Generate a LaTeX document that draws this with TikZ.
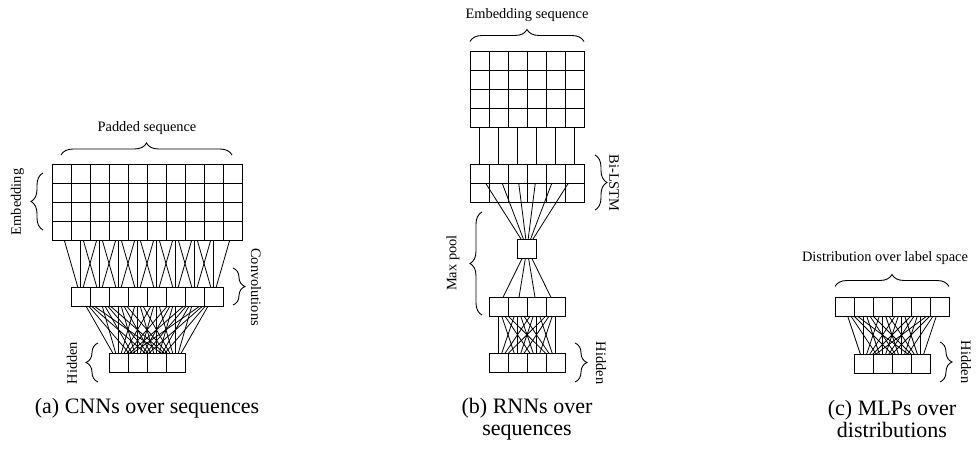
\documentclass[tikz,border=0pt]{standalone}
\usepackage{fontspec}
\setmainfont{Liberation Serif}
\usetikzlibrary{decorations.pathreplacing,backgrounds}
\begin{document}
\begin{tikzpicture}[x=0.5pt,y=-0.5pt,
  cell/.style={draw,fill=white,line width=0.45pt,minimum size=9.5pt,inner sep=0pt,outer sep=0pt},
  opencell/.style={cell,fill=none},
  wire/.style={line width=0.4pt},
  brc/.style={decorate,decoration={brace,amplitude=6pt},line width=0.45pt},
  lbl/.style={font=\fontsize{7.2}{8.6}\selectfont,inner sep=0pt},
  captext/.style={font=\fontsize{11}{11}\selectfont,align=center,inner sep=0pt}]
\useasboundingbox (0,0) rectangle (976,450);

% ---------- (a) CNN over a padded sequence ----------
\foreach \r in {0,...,3}
  \foreach \c in {0,...,9}
    \node[cell] (pe-\r-\c) at ({61.5+19*\c},{173.5+19*\r}) {};
\foreach \i in {0,...,7}
  \node[cell] (pc-\i) at ({80.5+19*\i},296.5) {};
\foreach \k in {0,...,3}
  \node[cell] (ph-\k) at ({118.5+19*\k},363) {};
\begin{pgfonlayer}{background}
  \foreach \i in {0,...,7}
    \foreach \d in {0,1,2} {
      \pgfmathtruncatemacro{\j}{\i+\d}
      \draw[wire] (pe-3-\j.center) -- (pc-\i.center);
    }
  \foreach \i in {0,...,7}
    \foreach \k in {0,...,3}
      \draw[wire] (pc-\i.center) -- (ph-\k.center);
\end{pgfonlayer}
\draw[brc] (61,155) -- (232,155);
\draw[brc] (43,230) -- (43,173);
\draw[brc] (233,268) -- (233,305);
\draw[brc] (98,382) -- (98,343);
\node[lbl] (ta-pad) at (147,128) {Padded sequence};
\node[lbl,rotate=90] (ta-emb) at (17.5,202) {Embedding};
\node[lbl,rotate=-90] (ta-conv) at (256,287) {Convolutions};
\node[lbl,rotate=90] (ta-hid) at (72,363) {Hidden};
\node[captext] (cap-a) at (147,408) {(a) CNNs over sequences};

% ---------- (b) Bi-LSTM with max pooling ----------
\foreach \r in {0,...,3}
  \foreach \c in {0,...,5}
    \node[cell] (rb-e-\r-\c) at ({479.5+19*\c},{60.5+19*\r}) {};
\foreach \c in {0,...,5} {
  \node[cell] (rb-f-\c) at ({479.5+19*\c},173.5) {};
  \node[opencell] (rb-b-\c) at ({479.5+19*\c},192.5) {};
}
\node[cell] (rb-p) at (527,248.5) {};
\foreach \k in {0,...,3} {
  \node[cell] (rb-m-\k) at ({498.5+19*\k},306.5) {};
  \node[cell] (rb-h-\k) at ({498.5+19*\k},363) {};
}
\begin{pgfonlayer}{background}
  \foreach \c in {0,...,5} {
    \draw[wire] (rb-e-3-\c.center) -- (rb-f-\c.center);
    \draw[wire] (rb-f-\c.center) -- (rb-p.center);
  }
  \foreach \k in {0,...,3}
    \draw[wire] (rb-p.center) -- (rb-m-\k.center);
  \foreach \i in {0,...,3}
    \foreach \k in {0,...,3}
      \draw[wire] (rb-m-\i.center) -- (rb-h-\k.center);
\end{pgfonlayer}
\draw[brc] (470,41.5) -- (584,41.5);
\draw[brc] (595,155) -- (595,210);
\draw[brc] (482,315) -- (482,212);
\draw[brc] (575,343) -- (575,382);
\node[lbl] (tb-emb) at (527,15) {Embedding sequence};
\node[lbl,rotate=-90] (tb-lstm) at (614,183) {Bi-LSTM};
\node[lbl,rotate=90] (tb-pool) at (453,263) {Max pool};
\node[lbl,rotate=-90] (tb-hid) at (601,363) {Hidden};
\node[captext] (cap-b) at (527,419) {(b) RNNs over\\sequences};

% ---------- (c) MLP over a distribution ----------
\foreach \c in {0,...,5}
  \node[cell] (mc-o-\c) at ({844.5+19*\c},306.5) {};
\foreach \k in {0,...,3}
  \node[cell] (mc-h-\k) at ({863.5+19*\k},363.5) {};
\begin{pgfonlayer}{background}
  \foreach \c in {0,...,5}
    \foreach \k in {0,...,3}
      \draw[wire] (mc-o-\c.center) -- (mc-h-\k.center);
\end{pgfonlayer}
\draw[brc] (835,286.5) -- (949,286.5);
\draw[brc] (940,342) -- (940,382);
\node[lbl] (tc-dist) at (885,258) {Distribution over label space};
\node[lbl,rotate=-90] (tc-hid) at (966,362) {Hidden};
\node[captext] (cap-c) at (892,419) {(c) MLPs over\\distributions};
\end{tikzpicture}
\end{document}
